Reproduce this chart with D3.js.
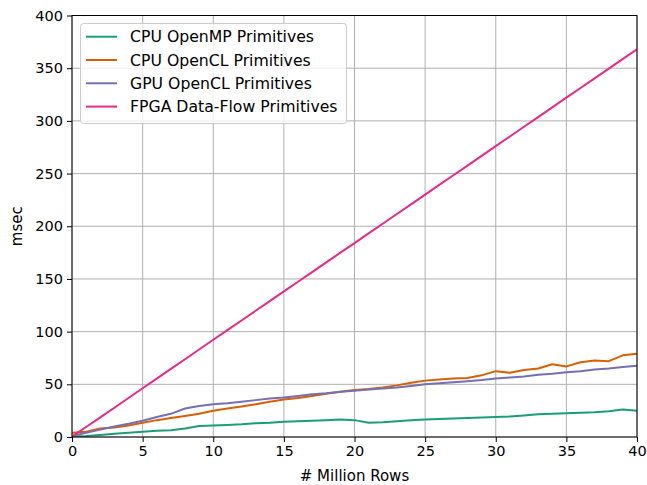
<!DOCTYPE html>
<html><head><meta charset="utf-8">
<script src="https://cdn.jsdelivr.net/npm/d3@7"></script>
<style>body{margin:0;background:#fff;} text{font-family:"DejaVu Sans",sans-serif;}</style>
</head><body>
<svg id="c" width="647" height="485"></svg>
<script>
const rows = [0,1,2,3,4,5,6,7,8,9,10,11,12,13,14,15,16,17,18,19,20,21,22,23,24,25,26,27,28,29,30,31,32,33,34,35,36,37,38,39,40];
const cpuOpenMP = [0.5,1,2,3,4,5,6,6.5,8,10.5,11,11.5,12,13,13.5,14.5,15,15.5,16,16.5,16,13.5,14,15,16,16.5,17,17.5,18,18.5,19,19.5,20.5,21.5,22,22.5,23,23.5,24.5,26,25];
const cpuOpenCL = [4,5,8,9,11,13.5,16,18,20,22,25,27,29,31,33.5,35.5,37,39,41,43,44.5,45.5,47,49,51.5,53.5,54.5,55.5,56,58.5,62.5,61,63.5,65,69,67,71,72.5,72,77.5,79];
const gpuOpenCL = [1,4,7,10,12.5,15.5,19,22,27,29.5,31,32,33.5,35,36.5,37.5,39,40.5,41.5,43,44,45,46,47,48.5,50,51,52,53,54,55.5,56.5,57.5,59,60,61.5,62.5,64,65,66.5,67.5];
const fpgaDataFlow = [0.5,9.5,18.6,27.8,37,46.3,55.4,64.6,73.8,83,92.3,101.4,110.6,119.8,129,138.2,147.3,156.5,165.7,174.9,184,193.2,202.4,211.6,220.8,230,239.2,248.4,257.6,266.8,276,285.2,294.4,303.6,312.8,322,331.2,340.4,349.6,358.8,368];
const seriesNames = ["CPU OpenMP Primitives","CPU OpenCL Primitives","GPU OpenCL Primitives","FPGA Data-Flow Primitives"];
const seriesColors = ["#1b9e77","#d95f02","#7570b3","#e7298a"];
const xTicks = [0,5,10,15,20,25,30,35,40];
const yTicks = [0,50,100,150,200,250,300,350,400];

const series = [cpuOpenMP, cpuOpenCL, gpuOpenCL, fpgaDataFlow];
const svg = d3.select("#c");
const L = 72, R = 637, T = 15.5, B = 437;
const x = d3.scaleLinear().domain([0,40]).range([L,R]);
const y = d3.scaleLinear().domain([0,400]).range([B,T]);

// grid
const g = svg.append("g");
g.selectAll(".gx").data(xTicks).join("line")
  .attr("x1",d=>x(d)).attr("x2",d=>x(d)).attr("y1",T).attr("y2",B)
  .attr("stroke","#b0b0b0").attr("stroke-width",1);
g.selectAll(".gy").data(yTicks).join("line")
  .attr("y1",d=>y(d)).attr("y2",d=>y(d)).attr("x1",L).attr("x2",R)
  .attr("stroke","#b0b0b0").attr("stroke-width",1);

// lines
const line = d3.line().x((d,i)=>x(rows[i])).y(d=>y(d));
svg.append("defs").append("clipPath").attr("id","clip").append("rect")
  .attr("x",L).attr("y",T).attr("width",R-L).attr("height",B-T);
const lg = svg.append("g").attr("clip-path","url(#clip)");
series.forEach((s,k)=>{
  lg.append("path").datum(s).attr("d",line).attr("fill","none")
    .attr("stroke",seriesColors[k]).attr("stroke-width",2).attr("stroke-linejoin","round");
});

// axes
const xa = svg.append("g").attr("transform",`translate(0,${B})`)
  .call(d3.axisBottom(x).tickValues(xTicks).tickSize(5).tickPadding(4).tickFormat(d3.format("d")));
const ya = svg.append("g").attr("transform",`translate(${L},0)`)
  .call(d3.axisLeft(y).tickValues(yTicks).tickSize(5).tickPadding(4).tickFormat(d3.format("d")));
[xa,ya].forEach(a=>{
  a.select(".domain").remove();
  a.selectAll("line").attr("stroke","#000").attr("stroke-width",1);
  a.selectAll("text").attr("font-size",14.5).attr("fill","#000").attr("font-family","DejaVu Sans");
});
svg.append("rect").attr("x",L).attr("y",T).attr("width",R-L).attr("height",B-T)
  .attr("fill","none").attr("stroke","#000").attr("stroke-width",1);

svg.append("text").attr("x",(L+R)/2).attr("y",481).attr("text-anchor","middle")
  .attr("font-size",15).text("# Million Rows");
svg.append("text").attr("transform",`translate(22,${(T+B)/2}) rotate(-90)`).attr("text-anchor","middle")
  .attr("font-size",15).text("msec");

// legend
const leg = svg.append("g");
leg.append("rect").attr("x",80.5).attr("y",23.5).attr("width",266).attr("height",100).attr("rx",3)
  .attr("fill","#fff").attr("fill-opacity",0.8).attr("stroke","#cccccc").attr("stroke-width",1);
seriesNames.forEach((n,k)=>{
  const cy = 36.7 + k*23.3;
  leg.append("line").attr("x1",86).attr("x2",117).attr("y1",cy).attr("y2",cy)
    .attr("stroke",seriesColors[k]).attr("stroke-width",2);
  leg.append("text").attr("x",130).attr("y",cy+5.5).attr("font-size",15.7).text(n);
});
</script>
</body></html>
